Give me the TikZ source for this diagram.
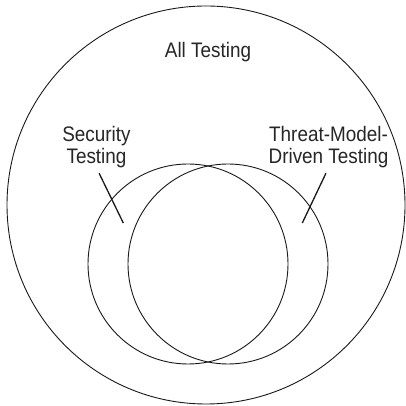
\documentclass[tikz,border=0pt]{standalone}
\usepackage{fontspec}
\setmainfont{Liberation Sans}[FakeStretch=0.9]
\usepackage{tikz}
\usetikzlibrary{positioning, calc}

\tikzset{
  label/.style={align=center, text=black!85, inner sep=0pt, font=\fontsize{21}{22}\selectfont},
  ring/.style={draw=black!90, line width=0.9pt},
  pointer/.style={draw=black!90, line width=1.3pt}
}

\begin{document}
\begin{tikzpicture}[x=1pt, y=1pt]
      \useasboundingbox (0,0) rectangle (405,406);
      % the three sets
      \draw[ring] (206,201) circle (199);
      \draw[ring] (188,142) circle (100);
      \draw[ring] (228,142) circle (100);
      % labels
      \node[label, anchor=base] (all) at (208,348.3) {All Testing};
      \node[label, anchor=base] (sec) at (96.5,242.7) {Security\\Testing};
      \node[label, anchor=base] (tmd) at (328.5,242.7) {Threat-Model-\\Driven Testing};
      \coordinate (secpt) at (123.3,183);
      \coordinate (tmdpt) at (302.3,183);
      \draw[pointer, shorten <=6pt] (sec.south) -- (secpt);
      \draw[pointer, shorten <=6pt] (tmd.south) -- (tmdpt);
    \end{tikzpicture}
\end{document}
